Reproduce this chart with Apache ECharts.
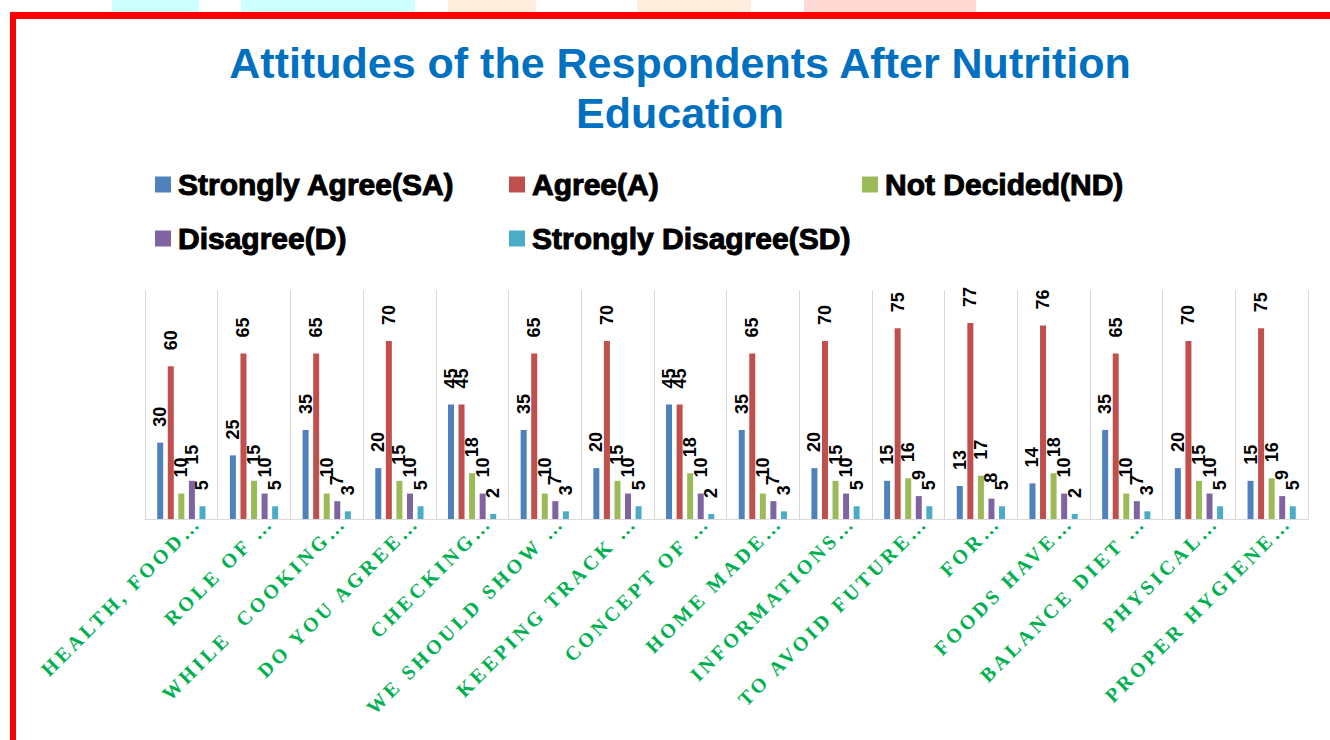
<!DOCTYPE html>
<html><head><meta charset="utf-8">
<script src="https://cdn.jsdelivr.net/npm/echarts@6/dist/echarts.min.js"></script>
<style>html,body{margin:0;padding:0;background:#fff;} #c{width:1330px;height:740px;}</style>
</head><body><div id="c"></div>
<script>
const categories = ["HEALTH, FOOD…", "ROLE OF …", "WHILE  COOKING…", "DO YOU AGREE…", "CHECKING…", "WE SHOULD SHOW …", "KEEPING TRACK …", "CONCEPT OF …", "HOME MADE…", "INFORMATIONS…", "TO AVOID FUTURE…", "FOR…", "FOODS HAVE…", "BALANCE DIET …", "PHYSICAL…", "PROPER HYGIENE…"];
const seriesNames = ["Strongly Agree(SA)", "Agree(A)", "Not Decided(ND)", "Disagree(D)", "Strongly Disagree(SD)"];
const stronglyAgree    = [30, 25, 35, 20, 45, 35, 20, 45, 35, 20, 15, 13, 14, 35, 20, 15];
const agree            = [60, 65, 65, 70, 45, 65, 70, 45, 65, 70, 75, 77, 76, 65, 70, 75];
const notDecided       = [10, 15, 10, 15, 18, 10, 15, 18, 10, 15, 16, 17, 18, 10, 15, 16];
const disagree         = [15, 10, 7, 10, 10, 7, 10, 10, 7, 10, 9, 8, 10, 7, 10, 9];
const stronglyDisagree = [5, 5, 3, 5, 2, 3, 5, 2, 3, 5, 5, 5, 2, 3, 5, 5];
const colors = ["#4F81BD", "#C0504D", "#9BBB59", "#8064A2", "#4BACC6"];
const values = [stronglyAgree, agree, notDecided, disagree, stronglyDisagree];

const chart = echarts.init(document.getElementById('c'), null, {renderer: 'svg'});

const legendPos = [[155, 169], [509, 169], [862, 169], [155, 223], [509, 223]];
const legends = seriesNames.map((n, i) => ({
  data: [n], left: legendPos[i][0], top: legendPos[i][1], padding: 0,
  icon: 'rect', itemWidth: 16, itemHeight: 16,
  textStyle: {fontFamily: 'Liberation Sans', fontWeight: 'bold', fontSize: 30, color: '#000',
    textBorderColor: '#000', textBorderWidth: 1, padding: [0, 0, 0, 2]}
}));

const series = seriesNames.map((n, i) => ({
  name: n, type: 'bar', data: values[i], barWidth: 6, barGap: '76%',
  itemStyle: {color: colors[i]},
  label: {show: true, position: 'top', distance: 16, rotate: 90, align: 'left', verticalAlign: 'middle',
    fontFamily: 'Liberation Sans', fontWeight: 'bold', fontSize: 18, color: '#000'}
}));

const option = {
  animation: false,
  backgroundColor: '#fff',
  color: colors,
  title: {
    text: 'Attitudes of the Respondents After Nutrition\nEducation',
    left: 675, textAlign: 'center', top: 33,
    textStyle: {fontFamily: 'Liberation Sans', fontWeight: 'bold', fontSize: 43, color: '#0070C0', lineHeight: 50}
  },
  legend: legends,
  grid: {left: 145, right: 22, top: 290, bottom: 221, containLabel: false},
  xAxis: {
    type: 'category', data: categories,
    axisLine: {lineStyle: {color: '#d9d9d9', width: 1}},
    axisTick: {show: false},
    splitLine: {show: true, lineStyle: {color: '#d9d9d9', width: 1}},
    axisLabel: {interval: 0, rotate: 45, color: '#00B050', fontFamily: 'Liberation Serif', fontWeight: 'bold',
      fontSize: 20, align: 'right', verticalAlign: 'top', lineHeight: 46, margin: -16}
  },
  yAxis: {type: 'value', min: 0, max: 90, show: false, splitLine: {show: false}},
  series: series,
  graphic: [
    {type: 'rect', shape: {x: 112, y: 0, width: 87, height: 12}, style: {fill: '#ccffff'}, silent: true},
    {type: 'rect', shape: {x: 241, y: 0, width: 174, height: 12}, style: {fill: '#ccffff'}, silent: true},
    {type: 'rect', shape: {x: 448, y: 0, width: 88, height: 12}, style: {fill: '#ffeedd'}, silent: true},
    {type: 'rect', shape: {x: 637, y: 0, width: 114, height: 12}, style: {fill: '#ffeedd'}, silent: true},
    {type: 'rect', shape: {x: 804, y: 0, width: 172, height: 12}, style: {fill: '#ffd9d3'}, silent: true},
    {type: 'rect', shape: {x: 10, y: 12, width: 1320, height: 7}, style: {fill: '#ff0000'}, silent: true},
    {type: 'rect', shape: {x: 10, y: 12, width: 6, height: 728}, style: {fill: '#ff0000'}, silent: true}
  ]
};
chart.setOption(option);

const labelSet = new Set(categories);
function spaceLabels() {
  document.querySelectorAll('#c svg text').forEach(t => {
    if (labelSet.has(t.textContent)) t.style.letterSpacing = '3.5px';
  });
}
chart.on('finished', spaceLabels);
spaceLabels();
setTimeout(spaceLabels, 50);
</script>
</body></html>
